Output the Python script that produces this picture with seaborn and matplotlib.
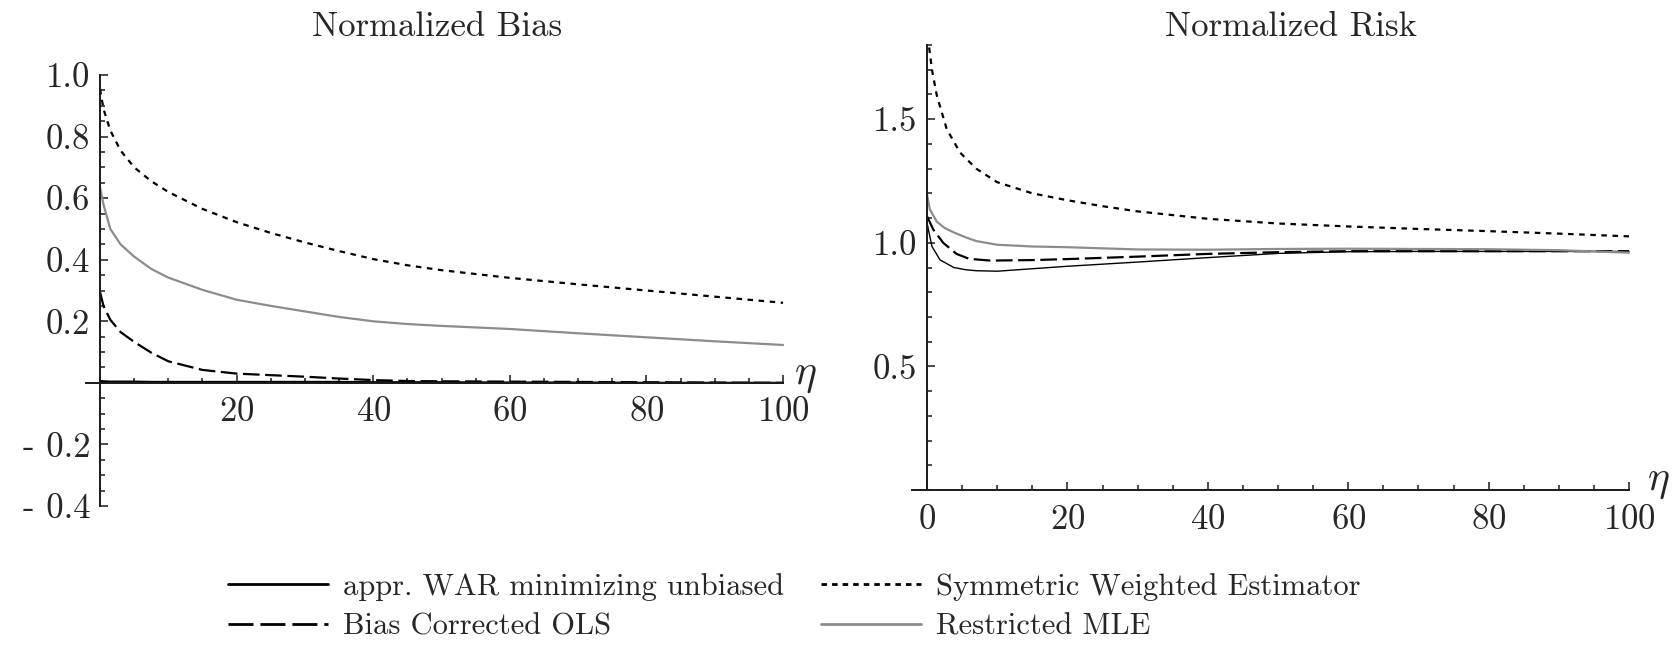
import numpy as np
import pandas as pd
import seaborn as sns
import matplotlib.pyplot as plt
from matplotlib.lines import Line2D
from matplotlib.ticker import FixedLocator, FixedFormatter, MultipleLocator

sns.set_style("white")
plt.rcParams['font.family'] = ['cmr10', 'DejaVu Serif']
plt.rcParams['mathtext.fontset'] = 'cm'
plt.rcParams['axes.formatter.use_mathtext'] = True

## Data

# Normalized Bias (left panel)
bias_x = [0, 0.5, 1.5, 3, 5, 7.5, 10, 15, 20, 25, 30, 35, 40, 45, 50, 60, 70, 80, 90, 100]
bias_war = [0.006, 0.005, 0.004, 0.004, 0.004, 0.003, 0.003, 0.003, 0.003, 0.003, 0.003,
            0.003, 0.002, 0.002, 0.002, 0.001, 0.001, 0.0, 0.0, 0.0]
bias_ols = [0.295, 0.25, 0.205, 0.165, 0.133, 0.098, 0.07, 0.042, 0.03, 0.025, 0.02,
            0.014, 0.009, 0.006, 0.005, 0.004, 0.003, 0.002, 0.001, 0.0]
bias_swe = [0.955, 0.89, 0.82, 0.755, 0.70, 0.655, 0.62, 0.565, 0.522, 0.487, 0.456,
            0.428, 0.402, 0.382, 0.366, 0.341, 0.32, 0.30, 0.28, 0.26]
bias_mle = [0.635, 0.58, 0.50, 0.45, 0.41, 0.37, 0.342, 0.302, 0.27, 0.25, 0.232,
            0.214, 0.2, 0.191, 0.185, 0.175, 0.161, 0.148, 0.135, 0.123]

# Normalized Risk (right panel)
risk_war_x = [0, 0.7, 1.85, 3.8, 5.5, 7, 10, 15, 20, 30, 40, 50, 60, 70, 80, 90, 100]
risk_war = [1.08, 0.985, 0.931, 0.90, 0.891, 0.887, 0.885, 0.895, 0.905, 0.922, 0.94,
            0.957, 0.964, 0.965, 0.965, 0.965, 0.965]
risk_ols_x = [0, 0.9, 2.3, 4.2, 6, 9, 15, 20, 30, 40, 50, 60, 70, 80, 90, 100]
risk_ols = [1.107, 1.053, 1.0, 0.955, 0.935, 0.928, 0.93, 0.934, 0.944, 0.955, 0.962,
            0.966, 0.966, 0.966, 0.966, 0.966]
risk_swe_x = [0.3, 0.7, 1.4, 2.8, 4.7, 7, 10, 15, 20, 25, 30, 40, 50, 60, 70, 80, 90, 100]
risk_swe = [1.79, 1.70, 1.595, 1.46, 1.365, 1.30, 1.245, 1.20, 1.172, 1.148, 1.127,
            1.097, 1.078, 1.066, 1.056, 1.047, 1.037, 1.026]
risk_mle_x = [0, 0.4, 1.4, 2.5, 3.8, 5.5, 7, 10, 15, 20, 30, 40, 50, 60, 70, 80, 90, 100]
risk_mle = [1.195, 1.135, 1.085, 1.06, 1.042, 1.022, 1.007, 0.992, 0.985, 0.982, 0.973,
            0.972, 0.975, 0.976, 0.975, 0.974, 0.97, 0.96]

labels = ["appr. WAR minimizing unbiased", "Bias Corrected OLS",
          "Symmetric Weighted Estimator", "Restricted MLE"]

bias_ticks = [-0.4, -0.2, 0.2, 0.4, 0.6, 0.8, 1.0]
bias_ticklabels = ["- 0.4", "- 0.2", "0.2", "0.4", "0.6", "0.8", "1.0"]
risk_ticks = [0.5, 1.0, 1.5]
risk_ticklabels = ["0.5", "1.0", "1.5"]

# line styles
styles = {
    labels[0]: dict(color="black", linestyle="-"),
    labels[1]: dict(color="black", linestyle=(0, (7.5, 2.5))),
    labels[2]: dict(color="black", linestyle=(0, (2.5, 2.5))),
    labels[3]: dict(color="#8c8c8c", linestyle="-"),
}

W, H = 1678, 647
fig = plt.figure(figsize=(W / 100, H / 100), dpi=100)
ax1 = fig.add_axes([85.7 / W, (H - 506) / H, 699.4 / W, 431 / H])
ax2 = fig.add_axes([912.3 / W, (H - 490) / H, 718.8 / W, 445 / H])

bias_series = [bias_war, bias_ols, bias_swe, bias_mle]
for lab, yv in zip(labels, bias_series):
    sns.lineplot(x=bias_x, y=yv, ax=ax1, linewidth=1.6, legend=False, **styles[lab])

risk_series = [(risk_war_x, risk_war, 1.0), (risk_ols_x, risk_ols, 1.6),
               (risk_swe_x, risk_swe, 1.6), (risk_mle_x, risk_mle, 1.6)]
for lab, (xv, yv, lw) in zip(labels, risk_series):
    sns.lineplot(x=xv, y=yv, ax=ax2, linewidth=lw, legend=False, **styles[lab])

for ax in (ax1, ax2):
    ax.set_xlim(-2.1, 100.3)
    for s in ("top", "right"):
        ax.spines[s].set_visible(False)
    ax.spines["left"].set_position(("data", 0))
    ax.spines["bottom"].set_position(("data", 0))
    ax.spines["bottom"].set_bounds(-2.1, 100)
    for s in ("left", "bottom"):
        ax.spines[s].set_linewidth(1.4)
        ax.spines[s].set_color("#1a1a1a")
    ax.xaxis.set_minor_locator(MultipleLocator(5))
    ax.tick_params(which="both", direction="in", color="#1a1a1a", width=1.1,
                   labelsize=25, bottom=True, left=True, top=False, right=False)
    ax.tick_params(which="major", length=6)
    ax.tick_params(which="minor", length=3.5)
    ax.tick_params(axis="x", pad=10)
    ax.tick_params(axis="y", pad=7)
    ax.set_xlabel("")
    ax.set_ylabel("")

ax1.set_ylim(-0.4, 1.0)
ax1.xaxis.set_major_locator(FixedLocator([20, 40, 60, 80, 100]))
ax1.yaxis.set_major_locator(FixedLocator(bias_ticks))
ax1.yaxis.set_major_formatter(FixedFormatter(bias_ticklabels))
ax1.yaxis.set_minor_locator(MultipleLocator(0.05))

ax2.set_ylim(0, 1.8)
ax2.xaxis.set_major_locator(FixedLocator([0, 20, 40, 60, 80, 100]))
ax2.yaxis.set_major_locator(FixedLocator(risk_ticks))
ax2.yaxis.set_major_formatter(FixedFormatter(risk_ticklabels))
ax2.yaxis.set_minor_locator(MultipleLocator(0.1))

ax1.text(101.6, 0.02, r"$\eta$", fontsize=30, ha="left", va="center")
ax2.text(102.6, 0.03, r"$\eta$", fontsize=30, ha="left", va="center")

fig.text(437 / W, 1 - 27 / H, "Normalized Bias", fontsize=25, ha="center", va="center")
fig.text(1291 / W, 1 - 27 / H, "Normalized Risk", fontsize=25, ha="center", va="center")

handles = [Line2D([], [], linewidth=2.0, **styles[lab]) for lab in labels]
handles[1].set_linestyle((0, (9, 2.5)))
handles[2].set_linestyle((0, (2, 1.8)))
fig.legend(handles, labels, ncol=2, loc="upper left",
           bbox_to_anchor=(228 / W, 1 - 573 / H), frameon=False, fontsize=22,
           borderpad=0, borderaxespad=0, handlelength=3.27, handletextpad=0.5,
           columnspacing=1.2, labelspacing=0.4)

fig.savefig("out.png", dpi=100)
